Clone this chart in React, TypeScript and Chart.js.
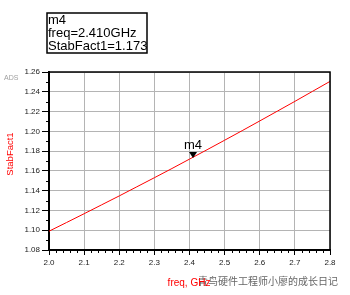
import React, { useEffect, useRef } from 'react';
import { Chart, registerables } from 'chart.js';

Chart.register(...registerables);

const freqGHz = [2.0, 2.05, 2.1, 2.15, 2.2, 2.25, 2.3, 2.35, 2.4, 2.45, 2.5, 2.55, 2.6, 2.65, 2.7, 2.75, 2.8];
const stabFact1 = [1.099, 1.1078, 1.1167, 1.1257, 1.1347, 1.1439, 1.1531, 1.1624, 1.1719, 1.1814, 1.191, 1.2007, 1.2105, 1.2204, 1.2303, 1.2404, 1.2505];

const xMin = 2.0;
const xMax = 2.8;
const xStep = 0.1;
const yMin = 1.08;
const yMax = 1.26;
const yStep = 0.02;

const markerName = 'm4';
const markerFreq = 2.41;
const markerValue = 1.173;
const markerLines = ['m4', 'freq=2.410GHz', 'StabFact1=1.173'];

const yTitle = 'StabFact1';
const xTitle = 'freq, GHz';
const cornerLabel = 'ADS';
const watermark = '青鸟硬件工程师小廖的成长日记';

const FONT = '"Liberation Sans", Arial, sans-serif';

const overlay = {
  id: 'overlay',
  afterDatasetsDraw(chart: any) {
    const ctx = chart.ctx;
    const xs = chart.scales.x;
    const ys = chart.scales.y;
    const px = xs.getPixelForValue(markerFreq);
    const py = ys.getPixelForValue(markerValue);
    ctx.save();
    ctx.fillStyle = '#000';
    ctx.beginPath();
    ctx.moveTo(px - 4, py - 6);
    ctx.lineTo(px + 4, py - 6);
    ctx.lineTo(px, py);
    ctx.closePath();
    ctx.fill();
    ctx.font = '13px ' + FONT;
    ctx.textAlign = 'center';
    ctx.textBaseline = 'middle';
    ctx.fillText(markerName, px, py - 13);
    ctx.restore();
  },
  afterDraw(chart: any) {
    const ctx = chart.ctx;
    const a = chart.chartArea;
    const xs = chart.scales.x;
    const ys = chart.scales.y;
    ctx.save();
    // frame top/right
    ctx.strokeStyle = '#000';
    ctx.lineWidth = 1.5;
    ctx.beginPath();
    ctx.moveTo(a.left, a.top);
    ctx.lineTo(a.right, a.top);
    ctx.lineTo(a.right, a.bottom);
    ctx.stroke();
    // minor ticks
    ctx.lineWidth = 1;
    ctx.beginPath();
    for (let i = 0; i <= 40; i++) {
      if (i % 5 === 0) continue;
      const x = Math.round(xs.getPixelForValue(xMin + i * 0.02)) + 0.5;
      ctx.moveTo(x, a.bottom);
      ctx.lineTo(x, a.bottom + 3);
    }
    for (let i = 0; i <= 18; i++) {
      if (i % 2 === 0) continue;
      const y = Math.round(ys.getPixelForValue(yMin + i * 0.01)) + 0.5;
      ctx.moveTo(a.left - 3, y);
      ctx.lineTo(a.left, y);
    }
    ctx.stroke();

    // marker readout box
    ctx.lineWidth = 1.5;
    ctx.strokeRect(47, 13, 100, 40);
    ctx.fillStyle = '#000';
    ctx.font = '13px ' + FONT;
    ctx.textAlign = 'left';
    ctx.textBaseline = 'middle';
    markerLines.forEach((t, i) => ctx.fillText(t, 48, 20 + i * 13));

    // ADS label
    ctx.fillStyle = '#a0a0a0';
    ctx.font = '7px ' + FONT;
    ctx.fillText(cornerLabel, 4, 78);

    // watermark
    ctx.fillStyle = '#666';
    ctx.font = '10px "Noto Sans CJK SC", sans-serif';
    ctx.fillText(watermark, 198, 281);

    // axis titles
    ctx.fillStyle = '#ff0000';
    ctx.font = '10px ' + FONT;
    ctx.textAlign = 'center';
    ctx.fillText(xTitle, 189, 283);
    ctx.translate(10, 154);
    ctx.rotate(-Math.PI / 2);
    ctx.font = '9.5px ' + FONT;
    ctx.fillText(yTitle, 0, 0);
    ctx.restore();
  },
};

export default function App() {
  const ref = useRef<HTMLCanvasElement | null>(null);
  useEffect(() => {
    if (!ref.current) return;
    const chart = new Chart(ref.current, {
      type: 'line',
      data: {
        datasets: [
          {
            label: yTitle,
            data: freqGHz.map((f, i) => ({ x: f, y: stabFact1[i] })),
            borderColor: '#ff0000',
            borderWidth: 1,
            pointRadius: 0,
            tension: 0,
            fill: false,
          },
        ],
      },
      options: {
        responsive: false,
        animation: false,
        layout: { padding: { top: 72, right: 20, left: 0, bottom: 0 } },
        plugins: { legend: { display: false }, tooltip: { enabled: false } },
        scales: {
          x: {
            type: 'linear',
            min: xMin,
            max: xMax,
            afterFit: (s: any) => { s.height = 45; },
            ticks: {
              stepSize: xStep,
              maxRotation: 0,
              autoSkip: false,
              padding: 3,
              color: '#222',
              font: { family: FONT, size: 8 },
              callback: (v: any) => Number(v).toFixed(1),
            },
            grid: {
              color: '#b4b4b4',
              lineWidth: 1,
              tickLength: 5,
              tickColor: '#000',
              tickWidth: 1,
            },
            border: { display: true, color: '#000', width: 2 },
          },
          y: {
            type: 'linear',
            min: yMin,
            max: yMax,
            afterFit: (s: any) => { s.width = 49; },
            ticks: {
              stepSize: yStep,
              autoSkip: false,
              padding: 2,
              color: '#222',
              font: { family: FONT, size: 8 },
              callback: (v: any) => Number(v).toFixed(2),
            },
            grid: {
              color: '#b4b4b4',
              lineWidth: 1,
              tickLength: 7,
              tickColor: '#000',
              tickWidth: 1,
            },
            border: { display: true, color: '#000', width: 2 },
          },
        },
      },
      plugins: [overlay],
    });
    return () => chart.destroy();
  }, []);
  return (
    <div style={{ position: 'absolute', left: 0, top: 0, width: 350, height: 295, background: '#fff' }}>
      <canvas ref={ref} width={350} height={295} />
    </div>
  );
}
